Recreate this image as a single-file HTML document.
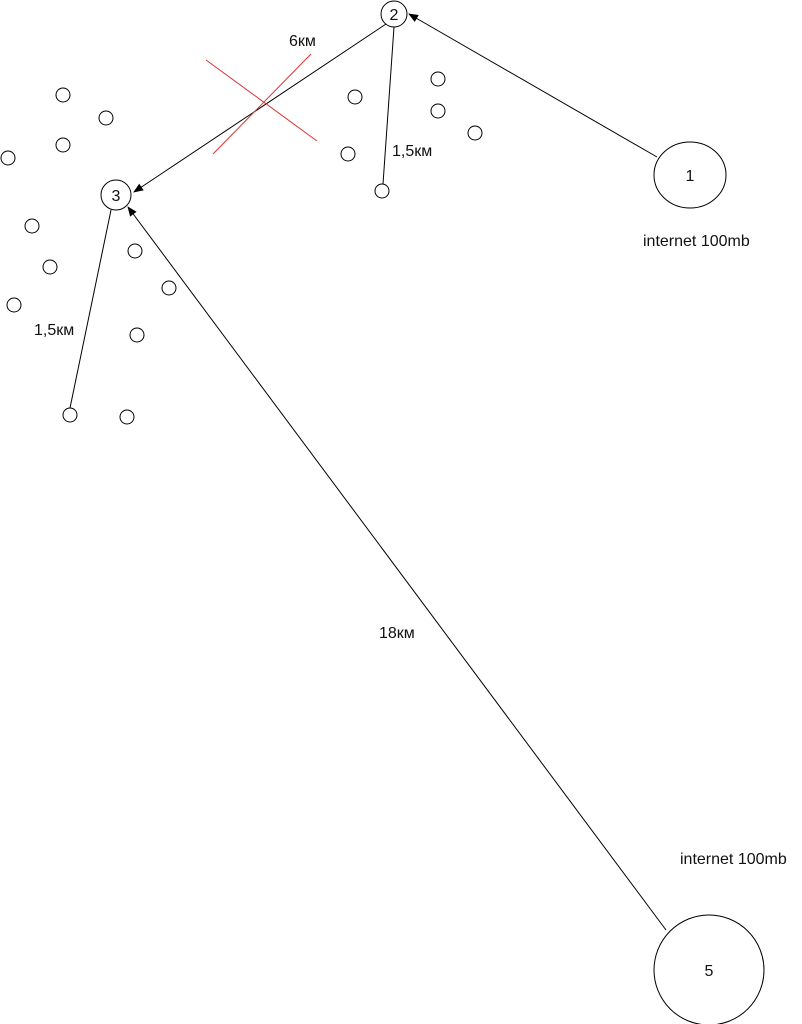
<!DOCTYPE html>
<html><head><style>body{margin:0;background:#fff}svg{display:block}text{font-family:"Liberation Sans",sans-serif;font-size:16px;fill:#111}</style></head>
<body>
<svg width="802" height="1024" viewBox="0 0 802 1024">
<defs><marker id="a" markerWidth="10" markerHeight="8" refX="9" refY="4" orient="auto" markerUnits="userSpaceOnUse"><path d="M0,0 L10,4 L0,8 z" fill="#000"/></marker></defs>
<g fill="none" stroke="#000" stroke-width="1">
<circle cx="394" cy="14" r="13"/>
<circle cx="116" cy="195" r="15"/>
<ellipse cx="690" cy="175" rx="36" ry="33"/>
<circle cx="709" cy="970" r="55"/>
<g>
<circle cx="63" cy="95" r="7"/><circle cx="106" cy="118" r="7"/><circle cx="63" cy="145" r="7"/><circle cx="8" cy="158" r="7"/>
<circle cx="355" cy="97" r="7"/><circle cx="438" cy="79" r="7"/><circle cx="438" cy="111" r="7"/><circle cx="475" cy="133" r="7"/>
<circle cx="348" cy="154" r="7"/><circle cx="382" cy="191" r="7"/><circle cx="32" cy="226" r="7"/><circle cx="135" cy="251" r="7"/>
<circle cx="50" cy="267" r="7"/><circle cx="169" cy="288" r="7"/><circle cx="14" cy="305" r="7"/><circle cx="137" cy="335" r="7"/>
<circle cx="70" cy="415" r="7"/><circle cx="127" cy="417" r="7"/>
</g>
<line x1="386" y1="24" x2="134" y2="192" marker-end="url(#a)"/>
<line x1="394" y1="27" x2="383" y2="184"/>
<line x1="111" y1="210" x2="70" y2="408"/>
<line x1="657" y1="157" x2="409" y2="14" marker-end="url(#a)"/>
<line x1="666" y1="930" x2="128" y2="207" marker-end="url(#a)"/>
</g>
<g stroke="#d33" stroke-width="1"><line x1="206" y1="60" x2="317" y2="141"/><line x1="213" y1="154" x2="311" y2="54"/></g>
<text x="394" y="20" text-anchor="middle">2</text>
<text x="116" y="201" text-anchor="middle">3</text>
<text x="690" y="181" text-anchor="middle">1</text>
<text x="709" y="976" text-anchor="middle">5</text>
<text x="289" y="46">6км</text>
<text x="392" y="156">1,5км</text>
<text x="34" y="335">1,5км</text>
<text x="379" y="638">18км</text>
<text x="643" y="246">internet 100mb</text>
<text x="680" y="864">internet 100mb</text>
</svg>
</body></html>
